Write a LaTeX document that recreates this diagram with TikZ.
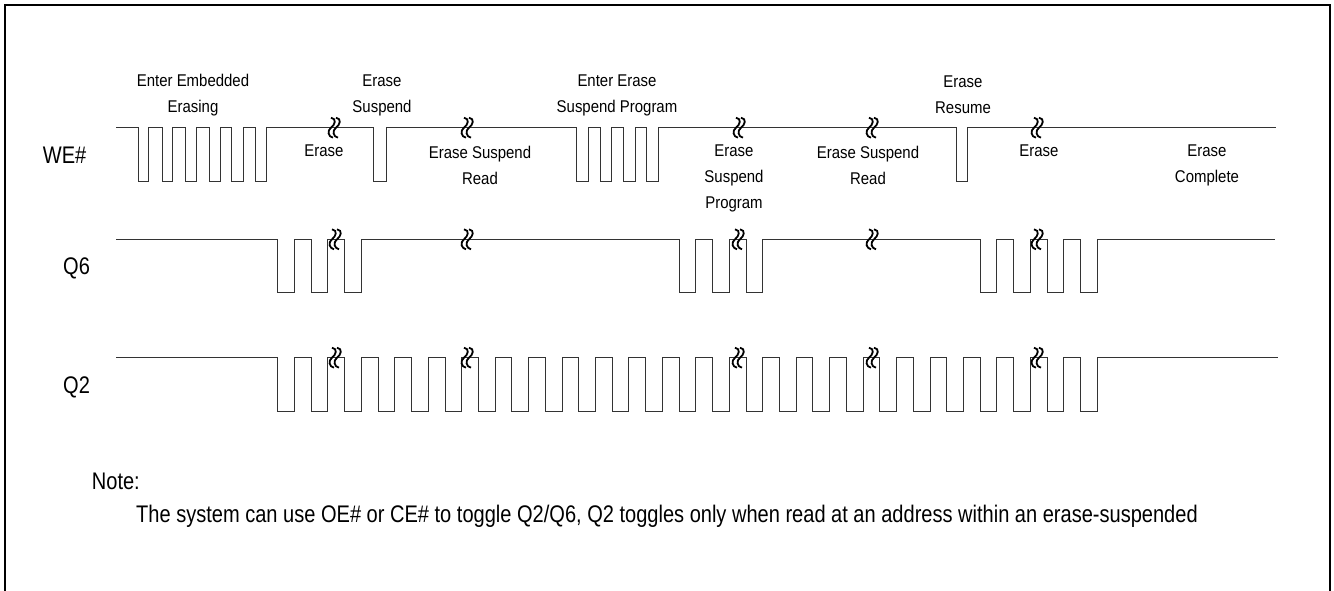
\documentclass[tikz,border=0pt]{standalone}
\usepackage{fontspec}
\setmainfont{Liberation Sans}[FakeStretch=0.88]
\newfontfamily\estreita{Liberation Sans}[FakeStretch=0.835]
\begin{document}
\begin{tikzpicture}[x=1pt,y=-1pt,
  sinal/.style={draw=black!80,line width=1pt},
  moldura/.style={draw=black,line width=2.5pt},
  rotulo/.style={font=\fontsize{17pt}{26pt}\selectfont,align=center},
  nome/.style={font=\fontsize{24pt}{24pt}\estreita,anchor=base west,inner sep=0pt},
  quebra/.pic={
    \draw[line width=1.8pt] (-3,-10) .. controls (3,-9) and (1,-3) .. (-3,0) .. controls (-7,3) and (-6,9) .. (-1,10);
    \draw[line width=1.8pt] (2,-10) .. controls (8,-9) and (6,-3) .. (2,0) .. controls (-2,3) and (-1,9) .. (4,10);
  }]
  \useasboundingbox (0,0) rectangle (1334,591);
%moldura
  \draw[moldura] (5,591) -- (5,5) -- (1330,5) -- (1330,591);

%sinais
  \draw[sinal] (116,127.7) -| (138.3,181.7) -| (148.3,127.7) -| (162.7,181.7) -| (172.7,127.7)
    -| (185,181.7) -| (196.7,127.7) -| (209.3,181.7) -| (220,127.7) -| (231.7,181.7) -| (243.3,127.7)
    -| (255,181.7) -| (266,127.7) -| (373.3,181.7) -| (386,127.7)
    -| (576.7,181.7) -| (588.3,127.7) -| (600,181.7) -| (611.7,127.7) -| (623.3,181.7) -| (635,127.7)
    -| (646.7,181.7) -| (658.3,127.7) -| (956,181.7) -| (967.3,127.7) -- (1275.7,127.7);

  \draw[sinal] (116,239.3) -| (277.7,292.3) -| (294.4,239.3) -| (311.2,292.3) -| (327.9,239.3)
    -| (344.6,292.3) -| (361.3,239.3) -| (679.1,292.3) -| (695.8,239.3) -| (712.6,292.3) -| (729.3,239.3)
    -| (746,292.3) -| (762.7,239.3) -| (980.2,292.3) -| (996.9,239.3) -| (1013.6,292.3) -| (1030.3,239.3)
    -| (1047.1,292.3) -| (1063.8,239.3) -| (1080.5,292.3) -| (1097.2,239.3) -- (1275,239.3);

  \draw[sinal] (116,357.7) -| (277.7,411) -| (294.4,357.7) -| (311.2,411) -| (327.9,357.7)
    -| (344.6,411) -| (361.3,357.7) -| (378.1,411) -| (394.8,357.7) -| (411.5,411) -| (428.2,357.7)
    -| (445,411) -| (461.7,357.7) -| (478.4,411) -| (495.1,357.7) -| (511.9,411) -| (528.6,357.7)
    -| (545.3,411) -| (562,357.7) -| (578.8,411) -| (595.5,357.7) -| (612.2,411) -| (628.9,357.7)
    -| (645.7,411) -| (662.4,357.7) -| (679.1,411) -| (695.8,357.7) -| (712.6,411) -| (729.3,357.7)
    -| (746,411) -| (762.7,357.7) -| (779.5,411) -| (796.2,357.7) -| (812.9,411) -| (829.6,357.7)
    -| (846.4,411) -| (863.1,357.7) -| (879.8,411) -| (896.5,357.7) -| (913.3,411) -| (930,357.7)
    -| (946.7,411) -| (963.4,357.7) -| (980.2,411) -| (996.9,357.7) -| (1013.6,411) -| (1030.3,357.7)
    -| (1047.1,411) -| (1063.8,357.7) -| (1080.5,411) -| (1097.2,357.7) -- (1277.7,357.7);

%quebras
  \pic at (334,127.7) {quebra};
  \pic at (467,127.7) {quebra};
  \pic at (739,127.7) {quebra};
  \pic at (872,127.7) {quebra};
  \pic at (1037,127.7) {quebra};
  \pic at (335,239.3) {quebra};
  \pic at (467,239.3) {quebra};
  \pic at (738,239.3) {quebra};
  \pic at (872,239.3) {quebra};
  \pic at (1037,239.3) {quebra};
  \pic at (335,357.7) {quebra};
  \pic at (467,357.7) {quebra};
  \pic at (738,357.7) {quebra};
  \pic at (872,357.7) {quebra};
  \pic at (1037,357.7) {quebra};

%rótulos
  \node[rotulo] (entra) at (193,95) {Enter Embedded\\Erasing};
  \node[rotulo] (suspende) at (382,95) {Erase\\Suspend};
  \node[rotulo] (entraprog) at (617,95) {Enter Erase\\Suspend Program};
  \node[rotulo] (retoma) at (963,95) {Erase\\Resume};
  \node[rotulo] (apaga) at (324,151) {Erase};
  \node[rotulo] (leitura) at (480,165) {Erase Suspend\\Read};
  \node[rotulo] (programa) at (734,178) {Erase\\Suspend\\Program};
  \node[rotulo] (leitura2) at (868,165) {Erase Suspend\\Read};
  \node[rotulo] (apaga2) at (1039,151) {Erase};
  \node[rotulo] (completo) at (1207,165) {Erase\\Complete};

  \node[nome] (we) at (42.7,163.4) {WE\#};
  \node[nome] (q6) at (63,274.5) {Q6};
  \node[nome] (q2) at (63,393) {Q2};
  \node[nome] (nota) at (91.7,489) {Note:};
  \node[nome] (texto) at (136,522.7) {The system can use OE\# or CE\# to toggle Q2/Q6, Q2 toggles only when read at an address within an erase-suspended};
\end{tikzpicture}
\end{document}
